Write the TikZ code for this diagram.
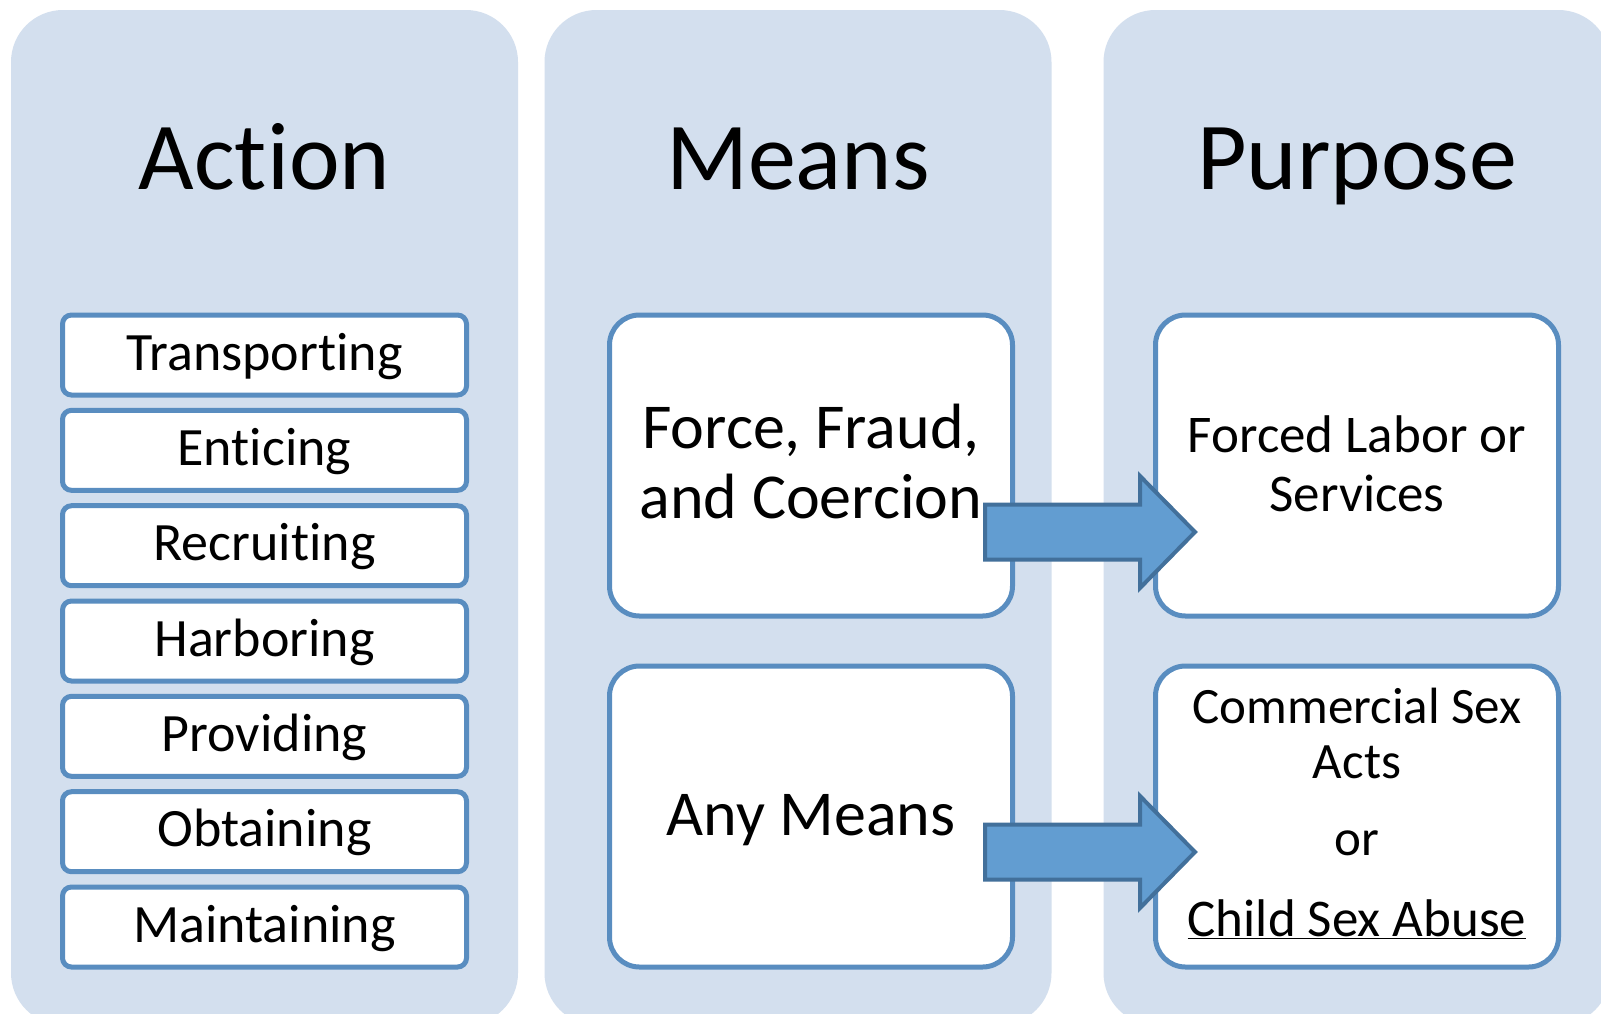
\documentclass[tikz,border=0pt]{standalone}
\usepackage{fontspec}
\setmainfont{Carlito}[Ligatures={NoCommon,NoRequired,NoContextual},RawFeature={-dlig;-clig}]
\usetikzlibrary{calc}
\definecolor{colfill}{RGB}{211,223,238}
\definecolor{boxline}{RGB}{89,141,192}
\definecolor{arrfill}{RGB}{98,157,209}
\definecolor{arrline}{RGB}{66,112,155}
\newcommand\nolig{\kern0pt }
\begin{document}
\begin{tikzpicture}[x=1pt,y=-1pt,
  colbox/.style={fill=colfill, draw=none, rounded corners=52pt, minimum width=507pt, minimum height=1015pt, inner sep=0pt, outer sep=0pt},
  head/.style={anchor=base, inner sep=0pt, font=\fontsize{96}{110}\selectfont},
  actbox/.style={draw=boxline, line width=5pt, fill=white, rounded corners=9pt, minimum width=404pt, minimum height=80pt, inner sep=0pt, outer sep=0pt, text height=40pt, text depth=10pt, font=\fontsize{54}{64}\selectfont},
  bigbox/.style={draw=boxline, line width=5pt, fill=white, rounded corners=30pt, minimum width=403pt, minimum height=301pt, inner sep=0pt, outer sep=0pt},
  boxtext/.style={anchor=base, inner sep=0pt, align=center},
  bigarrow/.style={fill=arrfill, draw=arrline, line width=4pt, line join=miter}
]
\clip (0,0) rectangle (1601,1013);
\useasboundingbox (0,0) rectangle (1601,1013);
\fill[white] (0,0) rectangle (1601,1013);
% columns
\node[colbox] (colA) at (264.5,517.5) {};
\node[colbox] (colM) at (798,517.5) {};
\node[colbox] (colP) at (1357,517.5) {};
% headings
\node[head] (hA) at (264.5,189) {Act\nolig ion};
\node[head] (hM) at (798,189) {Means};
\node[head] (hP) at (1357,189) {Purpose};
% action boxes
\node[actbox] (b1) at (264.5,355) {Transport\nolig ing};
\node[actbox] (b2) at (264.5,450.3) {Ent\nolig icing};
\node[actbox] (b3) at (264.5,545.7) {Recruit\nolig ing};
\node[actbox] (b4) at (264.5,641) {Harboring};
\node[actbox] (b5) at (264.5,736.3) {Providing};
\node[actbox] (b6) at (264.5,831.7) {Obtaining};
\node[actbox] (b7) at (264.5,927) {Maintaining};
% means boxes
\node[bigbox] (ff) at (811,465.5) {};
\node[bigbox] (am) at (811,816.5) {};
% purpose boxes
\node[bigbox] (fl) at (1357,465.5) {};
\node[bigbox] (cs) at (1357,816.5) {};
% texts
\node[boxtext, font=\fontsize{64}{70}\selectfont] (ffT) at (811,448) {\begin{tabular}[t]{@{}c@{}}Force, Fraud,\\and Coercion\end{tabular}};
\node[boxtext, font=\fontsize{64}{70}\selectfont] (amT) at (811,835) {Any Means};
\node[boxtext, font=\fontsize{53}{59}\selectfont] (flT) at (1357,452) {\begin{tabular}[t]{@{}c@{}}Forced Labor or\\Services\end{tabular}};
\node[boxtext, font=\fontsize{51}{55}\selectfont] (csT) at (1357,723) {\begin{tabular}[t]{@{}c@{}}Commercial Sex\\Acts\\[22pt]or\\[26pt]{\fontsize{53}{55}\selectfont\underline{Child Sex Abuse}}\end{tabular}};
% arrows
\coordinate (s1) at ($(ff.east)+(-27.5,66.5)$);
\coordinate (t1) at ($(fl.west)+(39.5,66.5)$);
\coordinate (s2) at ($(am.east)+(-27.5,35.5)$);
\coordinate (t2) at ($(cs.west)+(39.5,35.5)$);
\draw[bigarrow] ($(s1)+(0,-27.5)$) -- ($(t1)+(-55,-27.5)$) -- ($(t1)+(-55,-56)$) -- (t1) -- ($(t1)+(-55,56)$) -- ($(t1)+(-55,27.5)$) -- ($(s1)+(0,27.5)$) -- cycle;
\draw[bigarrow] ($(s2)+(0,-27.5)$) -- ($(t2)+(-55,-27.5)$) -- ($(t2)+(-55,-56)$) -- (t2) -- ($(t2)+(-55,56)$) -- ($(t2)+(-55,27.5)$) -- ($(s2)+(0,27.5)$) -- cycle;
\end{tikzpicture}
\end{document}
